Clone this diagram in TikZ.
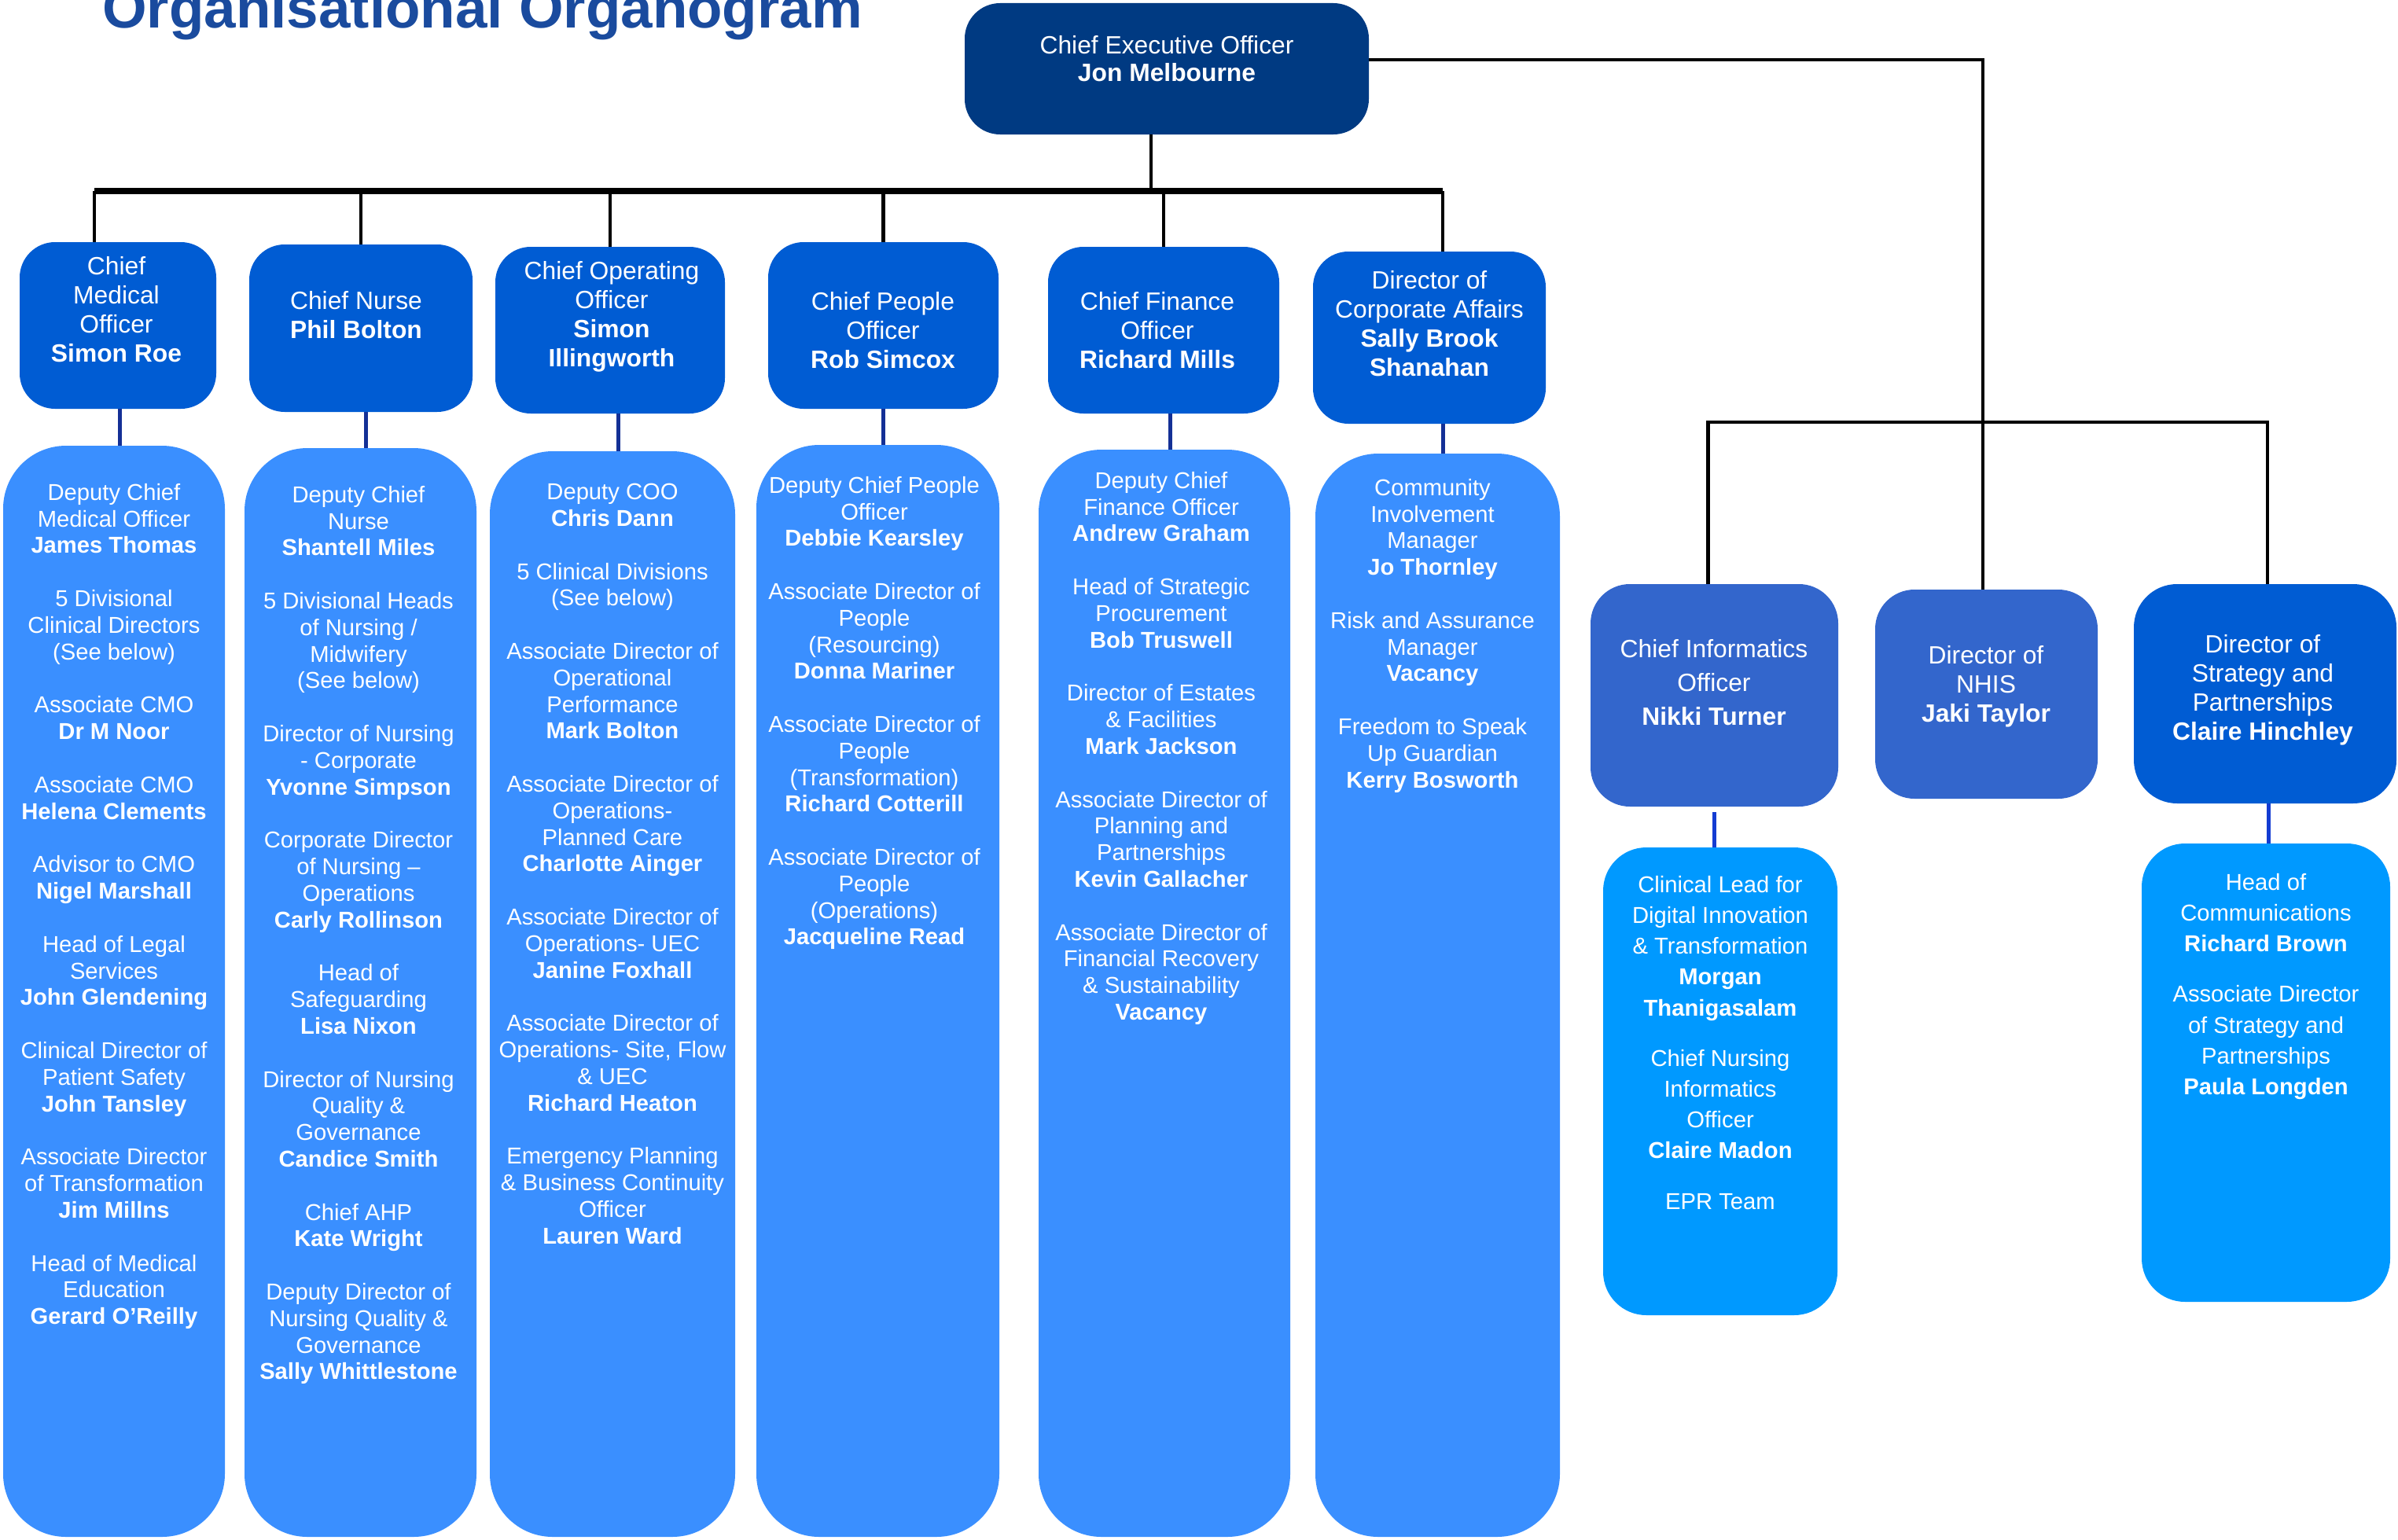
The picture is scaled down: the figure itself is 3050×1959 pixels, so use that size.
\documentclass[tikz,border=0pt]{standalone}
\usepackage{fontspec}
\setmainfont{Liberation Sans}
\usetikzlibrary{positioning}
\definecolor{titleblue}{RGB}{26,75,158}
\definecolor{ceoblue}{RGB}{0,58,130}
\definecolor{headblue}{RGB}{0,92,211}
\definecolor{teamblue}{RGB}{58,143,255}
\definecolor{infoblue}{RGB}{51,102,204}
\definecolor{subblue}{RGB}{0,153,255}
\definecolor{linkblue}{RGB}{20,48,150}
\definecolor{sublinkblue}{RGB}{20,60,210}
\tikzset{box/.style = {inner sep=0pt, rounded corners=45pt},
         ceobox/.style = {box, fill=ceoblue},
         headbox/.style = {box, fill=headblue},
         infobox/.style = {box, fill=infoblue, rounded corners=50pt},
         teambox/.style = {box, fill=teamblue, rounded corners=80pt},
         subbox/.style = {box, fill=subblue, rounded corners=55pt},
         headtext/.style = {text=white, align=center, inner sep=0pt,
                            font=\fontsize{31.8}{37}\selectfont},
         teamtext/.style = {text=white, align=center, inner sep=0pt, anchor=north,
                            font=\fontsize{29.2}{33.75}\selectfont},
         subtext/.style = {teamtext, font=\fontsize{29.2}{39.2}\selectfont},
         title/.style = {text=titleblue, inner sep=0pt,
                         font=\fontsize{72.8}{86}\selectfont\bfseries},
         link/.style = {line width=4.5pt},
         bus/.style = {line width=8pt},
         sublink/.style = {line width=5pt, draw=linkblue}}

\begin{document}
\begin{tikzpicture}[x=1pt, y=-1pt]
  \useasboundingbox (0,0) rectangle (3050,1959);
  \node [title, anchor=base west] (title) at (130,36) {Organisational Organogram};

  % chief executive
  \node [ceobox, minimum width=514pt, minimum height=167pt] (ceo) at (1484,87.5) {};
  \node [headtext, font=\fontsize{31.8}{35}\selectfont] (ceo-t) at (1484,75) {Chief Executive Officer\\\textbf{Jon Melbourne}};

  % executive directors
  \node [headbox, minimum width=250pt, minimum height=212pt] (cmo) at (150,414) {};
  \node [headbox, minimum width=284pt, minimum height=213pt] (cn) at (459,417.5) {};
  \node [headbox, minimum width=292pt, minimum height=212pt] (coo) at (776,420) {};
  \node [headbox, minimum width=293pt, minimum height=212pt] (cpo) at (1123.5,414) {};
  \node [headbox, minimum width=294pt, minimum height=212pt] (cfo) at (1480,420) {};
  \node [headbox, minimum width=296pt, minimum height=219pt] (dca) at (1818,429.5) {};
  \node [headtext] (cmo-t) at (148,394) {Chief\\Medical\\Officer\\\textbf{Simon Roe}};
  \node [headtext] (cn-t) at (453,401) {Chief Nurse\\\textbf{Phil Bolton}};
  \node [headtext] (coo-t) at (778,403) {Chief Operating\\Officer\\\textbf{Simon}\\\textbf{Illingworth}};
  \node [headtext] (cpo-t) at (1123,420) {Chief People\\Officer\\\textbf{Rob Simcox}};
  \node [headtext] (cfo-t) at (1472,420) {Chief Finance\\Officer\\\textbf{Richard Mills}};
  \node [headtext] (dca-t) at (1818,412) {Director of\\Corporate Affairs\\\textbf{Sally Brook}\\\textbf{Shanahan}};

  % teams
  \node [teambox, minimum width=282pt, minimum height=1388pt] (team1) at (145,1261) {};
  \node [teambox, minimum width=295pt, minimum height=1385pt] (team2) at (458.5,1262.5) {};
  \node [teambox, minimum width=312pt, minimum height=1381pt] (team3) at (779,1264.5) {};
  \node [teambox, minimum width=309pt, minimum height=1389pt] (team4) at (1116.5,1260.5) {};
  \node [teambox, minimum width=320pt, minimum height=1383pt] (team5) at (1481,1263.5) {};
  \node [teambox, minimum width=311pt, minimum height=1378pt] (team6) at (1828.5,1266) {};

  \node [teamtext] (team1-t) at (145,615) {Deputy Chief\\Medical Officer\\\textbf{James Thomas}\\[34pt]
    5 Divisional\\Clinical Directors\\(See below)\\[34pt]
    Associate CMO\\\textbf{Dr M Noor}\\[34pt]
    Associate CMO\\\textbf{Helena Clements}\\[34pt]
    Advisor to CMO\\\textbf{Nigel Marshall}\\[34pt]
    Head of Legal\\Services\\\textbf{John Glendening}\\[34pt]
    Clinical Director of\\Patient Safety\\\textbf{John Tansley}\\[34pt]
    Associate Director\\of Transformation\\\textbf{Jim Millns}\\[34pt]
    Head of Medical\\Education\\\textbf{Gerard O’Reilly}};
  \node [teamtext] (team2-t) at (456,618) {Deputy Chief\\Nurse\\\textbf{Shantell Miles}\\[34pt]
    5 Divisional Heads\\of Nursing /\\Midwifery\\(See below)\\[34pt]
    Director of Nursing\\- Corporate\\\textbf{Yvonne Simpson}\\[34pt]
    Corporate Director\\of Nursing –\\Operations\\\textbf{Carly Rollinson}\\[34pt]
    Head of\\Safeguarding\\\textbf{Lisa Nixon}\\[34pt]
    Director of Nursing\\Quality \&\\Governance\\\textbf{Candice Smith}\\[34pt]
    Chief AHP\\\textbf{Kate Wright}\\[34pt]
    Deputy Director of\\Nursing Quality \&\\Governance\\\textbf{Sally Whittlestone}};
  \node [teamtext] (team3-t) at (779,615) {Deputy COO\\\textbf{Chris Dann}\\[34pt]
    5 Clinical Divisions\\(See below)\\[34pt]
    Associate Director of\\Operational\\Performance\\\textbf{Mark Bolton}\\[34pt]
    Associate Director of\\Operations-\\Planned Care\\\textbf{Charlotte Ainger}\\[34pt]
    Associate Director of\\Operations- UEC\\\textbf{Janine Foxhall}\\[34pt]
    Associate Director of\\Operations- Site, Flow\\\& UEC\\\textbf{Richard Heaton}\\[34pt]
    Emergency Planning\\\& Business Continuity\\Officer\\\textbf{Lauren Ward}};
  \node [teamtext] (team4-t) at (1112,606) {Deputy Chief People\\Officer\\\textbf{Debbie Kearsley}\\[34pt]
    Associate Director of\\People\\(Resourcing)\\\textbf{Donna Mariner}\\[34pt]
    Associate Director of\\People\\(Transformation)\\\textbf{Richard Cotterill}\\[34pt]
    Associate Director of\\People\\(Operations)\\\textbf{Jacqueline Read}};
  \node [teamtext] (team5-t) at (1477,600) {Deputy Chief\\Finance Officer\\\textbf{Andrew Graham}\\[34pt]
    Head of Strategic\\Procurement\\\textbf{Bob Truswell}\\[34pt]
    Director of Estates\\\& Facilities\\\textbf{Mark Jackson}\\[34pt]
    Associate Director of\\Planning and\\Partnerships\\\textbf{Kevin Gallacher}\\[34pt]
    Associate Director of\\Financial Recovery\\\& Sustainability\\\textbf{Vacancy}};
  \node [teamtext] (team6-t) at (1822,609) {Community\\Involvement\\Manager\\\textbf{Jo Thornley}\\[34pt]
    Risk and Assurance\\Manager\\\textbf{Vacancy}\\[34pt]
    Freedom to Speak\\Up Guardian\\\textbf{Kerry Bosworth}};

  % informatics, NHIS, strategy
  \node [infobox, minimum width=315pt, minimum height=283pt] (cio) at (2180.5,884.5) {};
  \node [infobox, minimum width=283pt, minimum height=266pt] (nhis) at (2526.5,883) {};
  \node [headbox, rounded corners=55pt, minimum width=334pt, minimum height=279pt] (strat) at (2881,882.5) {};
  \node [headtext, font=\fontsize{31.8}{43}\selectfont] (cio-t) at (2180,868) {Chief Informatics\\Officer\\\textbf{Nikki Turner}};
  \node [headtext] (nhis-t) at (2526,873) {Director of\\NHIS\\\textbf{Jaki Taylor}};
  \node [headtext] (strat-t) at (2878,878) {Director of\\Strategy and\\Partnerships\\\textbf{Claire Hinchley}};

  \node [subbox, minimum width=298pt, minimum height=595pt] (ciosub) at (2188,1375.5) {};
  \node [subbox, minimum width=316pt, minimum height=583pt] (stratsub) at (2882,1364.5) {};
  \node [subtext] (ciosub-t) at (2188,1114) {Clinical Lead for\\Digital Innovation\\\& Transformation\\\textbf{Morgan}\\\textbf{Thanigasalam}\\[25pt]
    Chief Nursing\\Informatics\\Officer\\\textbf{Claire Madon}\\[25pt]
    EPR Team};
  \node [subtext] (stratsub-t) at (2882,1111) {Head of\\Communications\\\textbf{Richard Brown}\\[25pt]
    Associate Director\\of Strategy and\\Partnerships\\\textbf{Paula Longden}};

  % reporting lines
  \coordinate (busL) at (120,243);
  \coordinate (busR) at (1835,243);
  \coordinate (hub) at (2522,537);
  \draw [bus] (busL) -- (busR);
  \draw [link, line width=3.5pt] ([xshift=-20pt]ceo.south) -- ([xshift=-20pt]ceo.south |- busL);
  \draw [link] (busL) -- (busL |- cmo.north);
  \draw [link] (busR) -- (busR |- dca.north);
  \foreach \boss in {cn, coo, cpo, cfo}
    \draw [link] (\boss.north |- busL) -- (\boss.north);
  \foreach \boss/\team in {cmo/team1, cn/team2, coo/team3, cpo/team4, cfo/team5, dca/team6}
    \draw [sublink] ([xshift=7pt]\team.north) -- ([xshift=7pt]\team.north |- \boss.south);
  \draw [link, line width=4.5pt] ([yshift=11.5pt]ceo.east) -| (hub |- nhis.north);
  \draw [link, line width=4.5pt] ([xshift=-8pt]cio.north) |- (hub) -| ([xshift=3pt]strat.north);
  \draw [sublink, draw=sublinkblue] ([yshift=-7pt]cio.south) -- (cio.south |- ciosub.north);
  \draw [sublink, draw=sublinkblue] ([xshift=4pt]strat.south) -- ([xshift=4pt]strat.south |- stratsub.north);
\end{tikzpicture}
\end{document}
